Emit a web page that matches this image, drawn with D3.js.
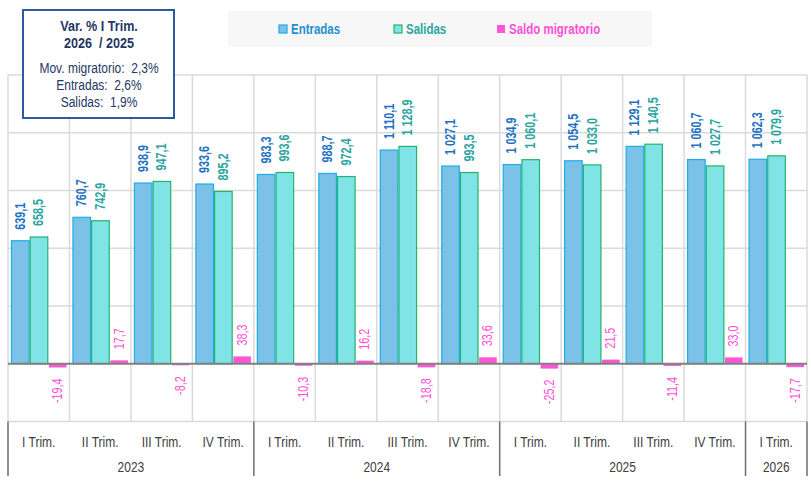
<!DOCTYPE html>
<html>
<head>
<meta charset="utf-8">
<script src="https://cdn.jsdelivr.net/npm/d3@7/dist/d3.min.js"></script>
<style>
  html, body { margin: 0; padding: 0; background: #fff; }
  svg { display: block; }
  text { font-family: "Liberation Sans", Arial, sans-serif; }
</style>
</head>
<body>
<svg id="chart" width="811" height="481"></svg>
<script>
// ---- Data ----
const quarters = ["I Trim.", "II Trim.", "III Trim.", "IV Trim.",
                  "I Trim.", "II Trim.", "III Trim.", "IV Trim.",
                  "I Trim.", "II Trim.", "III Trim.", "IV Trim.",
                  "I Trim."];
const years = ["2023", "2024", "2025", "2026"];
const yearSpans = [4, 4, 4, 1];
const entradas = [639.1, 760.7, 938.9, 933.6, 983.3, 988.7, 1110.1, 1027.1, 1034.9, 1054.5, 1129.1, 1060.7, 1062.3];
const salidas  = [658.5, 742.9, 947.1, 895.2, 993.6, 972.4, 1128.9, 993.5, 1060.1, 1033.0, 1140.5, 1027.7, 1079.9];
const saldo    = [-19.4, 17.7, -8.2, 38.3, -10.3, 16.2, -18.8, 33.6, -25.2, 21.5, -11.4, 33.0, -17.7];
const seriesNames = ["Entradas", "Salidas", "Saldo migratorio"];
const yTicks = [-300, 0, 300, 600, 900, 1200, 1500];
const boxTitle = ["Var. % I Trim.", "2026  / 2025"];
const boxLines = ["Mov. migratorio:  2,3%", "Entradas:  2,6%", "Salidas:  1,9%"];

// ---- Styles ----
const fills   = ["#7BC1E8", "#80E3E6", "#FF55D6"];
const strokes = ["#1AAEEA", "#22B46C", "#FF55D6"];
const labelColors = ["#1E72C2", "#2AA5A0", "#FF4FD6"];
const legendText = ["#1E8FD0", "#2AA5A0", "#FF4FD6"];
const NARROW = 0.8;

const svg = d3.select("#chart");
const loc = d3.formatLocale({decimal: ",", thousands: "\u00a0", grouping: [3], currency: ["", ""], minus: "-"});
const fmt = loc.format(",.1f");

const idx = d3.range(quarters.length);
const x = d3.scaleBand().domain(idx).range([8, 807]).paddingInner(0).paddingOuter(0);
const xs = d3.scaleBand().domain([0, 1, 2]).range([3.5, 58.5]).paddingInner(0.06);
const y = d3.scaleLinear().domain([-300, 1500]).range([421.5, 75]);

// gridlines
const grid = svg.append("g");
grid.selectAll("line.h").data(yTicks.filter(d => d !== 0)).join("line")
  .attr("x1", 8).attr("x2", 807)
  .attr("y1", d => y(d)).attr("y2", d => y(d))
  .attr("stroke", "#DADADA").attr("stroke-width", 1.5);
const edge = i => i < quarters.length ? x(i) : x(quarters.length - 1) + x.bandwidth();
grid.selectAll("line.v").data(d3.range(quarters.length + 1)).join("line")
  .attr("x1", i => edge(i)).attr("x2", i => edge(i))
  .attr("y1", y(1500)).attr("y2", y(-300))
  .attr("stroke", "#DADADA").attr("stroke-width", 1.5);

// bars
const series = [entradas, salidas, saldo];
series.forEach((vals, s) => {
  const g = svg.append("g");
  g.selectAll("rect").data(vals).join("rect")
    .attr("x", (d, i) => x(i) + xs(s))
    .attr("width", xs.bandwidth())
    .attr("y", d => y(Math.max(0, d)))
    .attr("height", d => Math.abs(y(d) - y(0)))
    .attr("fill", fills[s])
    .attr("stroke", s < 2 ? strokes[s] : "none")
    .attr("stroke-width", 1.2);
});

// zero line
svg.append("line").attr("x1", 8).attr("x2", 807).attr("y1", y(0)).attr("y2", y(0))
  .attr("stroke", "#808080").attr("stroke-width", 2);

// labels
series.forEach((vals, s) => {
  const g = svg.append("g");
  g.selectAll("text").data(vals).join("text")
    .attr("transform", (d, i) => {
      const cx = x(i) + xs(s) + xs.bandwidth() / 2;
      const yy = d >= 0 ? y(d) - 11 : y(d) + 11;
      return `translate(${cx},${yy}) rotate(-90) scale(0.77,1)`;
    })
    .attr("text-anchor", d => d >= 0 ? "start" : "end")
    .attr("dominant-baseline", "central")
    .attr("font-size", 14)
    .attr("font-weight", s < 2 ? "bold" : "normal")
    .attr("fill", labelColors[s])
    .text(d => fmt(d));
});

// category axis
const axisTop = y(-300);
const axisBottom = 476;
svg.append("g").selectAll("text").data(quarters).join("text")
  .attr("transform", (d, i) => `translate(${x(i) + x.bandwidth() / 2},442) scale(${NARROW},1)`)
  .attr("text-anchor", "middle").attr("dominant-baseline", "central")
  .attr("font-size", 15).attr("fill", "#404040")
  .text(d => d);

let start = 0;
const groups = years.map((yr, k) => {
  const g = {yr, s: start, e: start + yearSpans[k]};
  start += yearSpans[k];
  return g;
});
svg.append("g").selectAll("text").data(groups).join("text")
  .attr("transform", g => `translate(${(edge(g.s) + edge(g.e)) / 2},467) scale(${NARROW},1)`)
  .attr("text-anchor", "middle").attr("dominant-baseline", "central")
  .attr("font-size", 15).attr("fill", "#404040")
  .text(g => g.yr);
const seps = [0].concat(groups.map(g => g.e));
svg.append("g").selectAll("line").data(seps).join("line")
  .attr("x1", i => edge(i)).attr("x2", i => edge(i))
  .attr("y1", axisTop).attr("y2", axisBottom)
  .attr("stroke", "#6E6E6E").attr("stroke-width", 1.5);

// legend
const lg = svg.append("g");
lg.append("rect").attr("x", 228).attr("y", 11).attr("width", 424).attr("height", 36).attr("fill", "#F7F7F7");
const legX = [279, 394, 497];
seriesNames.forEach((n, s) => {
  lg.append("rect").attr("x", legX[s]).attr("y", 25).attr("width", 8).attr("height", 8)
    .attr("fill", fills[s]).attr("stroke", s < 2 ? strokes[s] : "none").attr("stroke-width", 1.2);
  lg.append("text").attr("transform", `translate(${legX[s] + 12},29.5) scale(0.82,1)`)
    .attr("dominant-baseline", "central").attr("font-size", 14).attr("font-weight", "bold")
    .attr("fill", legendText[s]).text(n);
});

// text box
const bx = svg.append("g");
bx.append("rect").attr("x", 23).attr("y", 10).attr("width", 151).attr("height", 108)
  .attr("fill", "#fff").attr("stroke", "#2F5A9E").attr("stroke-width", 2);
const boxY1 = [26, 43.5];
boxTitle.forEach((t, k) => {
  bx.append("text").attr("transform", `translate(99,${boxY1[k]}) scale(0.9,1)`)
    .attr("text-anchor", "middle")
    .attr("dominant-baseline", "central").attr("font-size", 14).attr("font-weight", "bold")
    .attr("fill", "#1F3864").attr("xml:space", "preserve").style("white-space", "pre").text(t);
});
const boxY2 = [68.5, 85.5, 102];
boxLines.forEach((t, k) => {
  bx.append("text").attr("transform", `translate(99,${boxY2[k]}) scale(0.8,1)`)
    .attr("text-anchor", "middle")
    .attr("dominant-baseline", "central").attr("font-size", 15)
    .attr("fill", "#1F3864").style("white-space", "pre").text(t);
});
</script>
</body>
</html>
